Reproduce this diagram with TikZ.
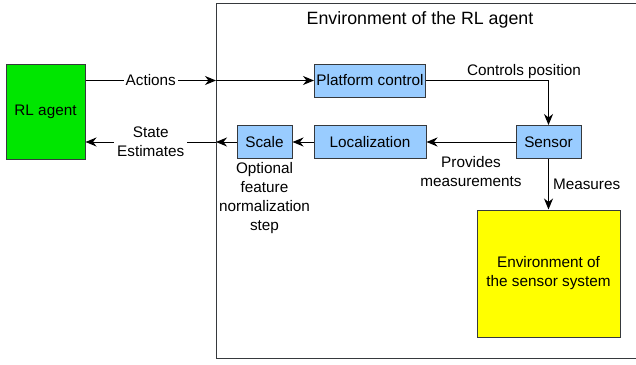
\documentclass[tikz,border=0pt]{standalone}
\usepackage{fontspec}
\setmainfont{Liberation Sans}
\usetikzlibrary{arrows.meta}

\definecolor{agentgreen}{RGB}{0,230,0}
\definecolor{blockblue}{RGB}{153,204,255}
\definecolor{envyellow}{RGB}{255,255,0}
\definecolor{edgegray}{RGB}{54,57,61}

\begin{document}
\begin{tikzpicture}[x=1pt,y=-1pt,
        font=\fontsize{15.3}{19}\selectfont,
        block/.style={draw=edgegray,line width=1pt,fill=blockblue,inner sep=0pt,minimum height=33pt},
        link/.style={-{Stealth[length=11pt,width=9pt,inset=3.5pt]},line width=1pt},
        tag/.style={align=center,inner sep=1pt}]

    \useasboundingbox (0,0) rectangle (636,364);
    \clip (0,0) rectangle (636,364);

    % environment frame, open to the right
    \draw[edgegray,line width=1pt] (640,3) -- (216,3) -- (216,358) -- (640,358);
    \node (envtitle) at (420,20) {\fontsize{17.8}{20}\selectfont Environment of the RL agent};

    \node[draw=edgegray,line width=1pt,fill=agentgreen,minimum width=79pt,minimum height=95pt] (agent) at (45.5,111.5) {RL agent};

    \node[block,minimum width=111pt] (platform) at (370,80.5) {Platform control};
    \node[block,minimum width=112pt] (loc) at (370,142) {Localization};
    \node[block,minimum width=65pt] (sensor) at (548.5,142) {Sensor};
    \node[block,minimum width=55pt] (scale) at (264.5,142) {Scale};

    \node[draw=edgegray,line width=1pt,fill=envyellow,align=center,minimum width=143pt,minimum height=127pt] (sensys) at (548.5,273.5) {Environment of\\the sensor system};

    \node[tag,below=2pt] (optnote) at (scale.south) {Optional\\feature\\normalization\\step};

    % crossing points on the frame
    \coordinate (inA) at (216,80.5);
    \coordinate (outS) at (216,142);

    \draw[link] (agent.east |- platform) -- node[fill=white,inner sep=2pt] {Actions} (inA);
    \draw[link] (inA) -- (platform);

    \draw[link] (platform) -| node[pos=0.4,above,inner sep=1pt] {Controls position} (sensor);
    \draw[link] (sensor) -- node[tag,below=13pt] {Provides\\measurements} (loc);
    \draw[link] (sensor) -- node[right,inner sep=4pt] {Measures} (sensys);
    \draw[link] (loc) -- (scale);

    \draw[link] (scale) -- (outS);
    \draw[link] (outS) -- node[tag,fill=white,inner sep=3pt] {State\\Estimates} (agent.east |- outS);
\end{tikzpicture}
\end{document}
